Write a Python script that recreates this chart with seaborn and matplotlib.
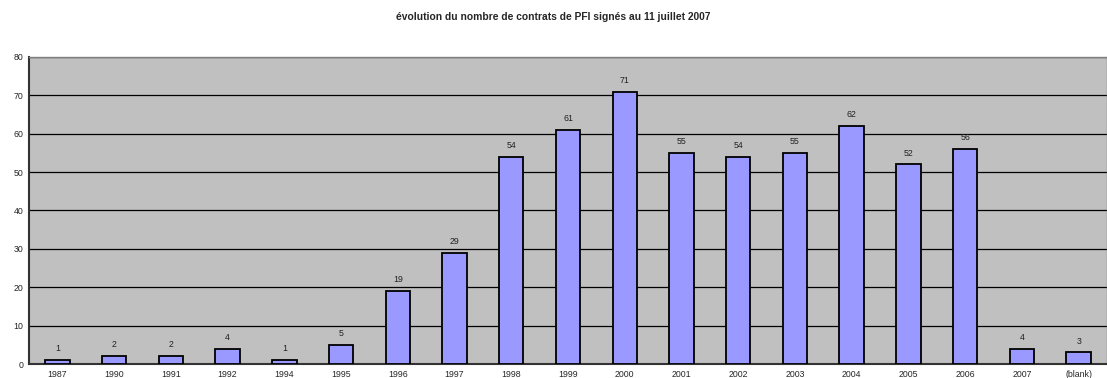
import matplotlib
matplotlib.use("Agg")
import matplotlib.pyplot as plt
import seaborn as sns
import pandas as pd

years = ["1987", "1990", "1991", "1992", "1994", "1995", "1996", "1997", "1998", "1999",
         "2000", "2001", "2002", "2003", "2004", "2005", "2006", "2007", "(blank)"]
contrats = [1, 2, 2, 4, 1, 5, 19, 29, 54, 61, 71, 55, 54, 55, 62, 52, 56, 4, 3]

df = pd.DataFrame({"annee": years, "nb": contrats})

sns.set_style("white")
plt.rcParams['font.family'] = ['Liberation Sans', 'DejaVu Sans']

fig = plt.figure(figsize=(11.07, 3.78), dpi=100)
ax = fig.add_axes([29 / 1107, 14 / 378, 1078 / 1107, 307 / 378])
ax.set_facecolor("#C0C0C0")

sns.barplot(data=df, x="annee", y="nb", color="#9999FF", width=0.43,
            edgecolor="black", linewidth=1.3, saturation=1, ax=ax, zorder=3)

for i, v in enumerate(contrats):
    ax.text(i, v + 1.8, str(v), ha="center", va="bottom", fontsize=6.3, color="#222222")

ax.set_ylim(0, 80)
ax.set_xlim(-0.5, len(years) - 0.5)
ax.set_yticks(range(0, 81, 10))
ax.yaxis.grid(True, color="black", linewidth=0.9, zorder=1)
ax.set_axisbelow(True)
ax.set_xlabel("")
ax.set_ylabel("")

# ticks between categories, labels centred
ax.set_xticks([i + 0.5 for i in range(len(years) - 1)], minor=True)
ax.tick_params(axis="x", which="minor", length=3, width=0.8, color="black", direction="out")
ax.tick_params(axis="x", which="major", length=0, labelsize=6.3, pad=4)
ax.tick_params(axis="y", length=3, width=0.8, color="black", direction="out", labelsize=6.3, pad=1)

for s in ["top", "right"]:
    ax.spines[s].set_color("#808080")
    ax.spines[s].set_linewidth(1)
ax.spines["left"].set_color("#333333")
ax.spines["left"].set_linewidth(1.5)
ax.spines["bottom"].set_color("#333333")
ax.spines["bottom"].set_linewidth(1.5)

fig.text(0.5, 0.955, "évolution du nombre de contrats de PFI signés au 11 juillet 2007",
         ha="center", va="center", fontsize=7.4, fontweight="bold")

fig.savefig("out.png", dpi=100)
